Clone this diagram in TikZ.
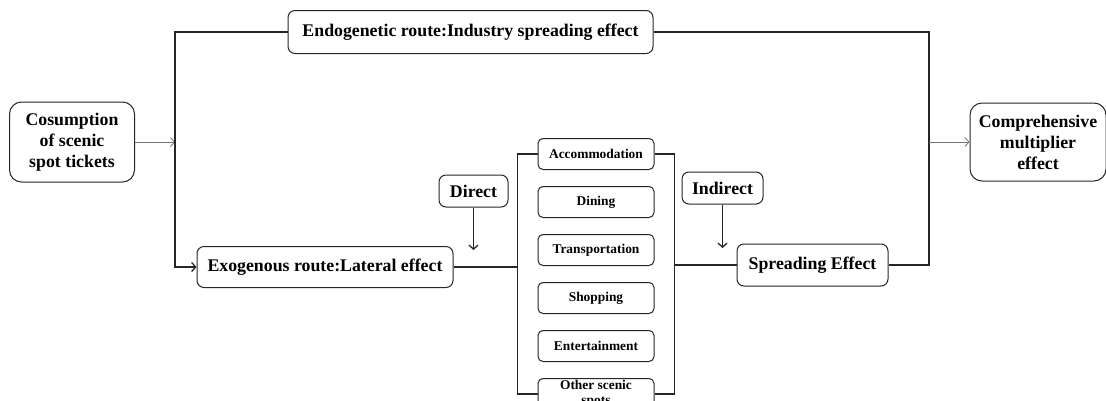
\documentclass[tikz,border=0pt]{standalone}
\usepackage{fontspec}
\setmainfont{Liberation Serif}
\usetikzlibrary{arrows.meta,positioning}

\tikzset{
  box/.style={draw=black!85, line width=1pt, rounded corners=7pt, align=center, inner sep=2pt,
    font=\bfseries\fontsize{17.8}{21}\selectfont},
  catbox/.style={box, rounded corners=5pt, minimum width=116pt, minimum height=31pt, inner sep=1pt,
    font=\bfseries\fontsize{13.4}{15}\selectfont},
  link/.style={draw=black!85, line width=1.3pt},
  thinlink/.style={draw=black!55, line width=0.8pt}
}

\begin{document}
\begin{tikzpicture}[x=1pt, y=-1pt, node distance=16pt and 20pt, >={Straight Barb[length=4pt,width=9pt]}]
  \useasboundingbox (0,0) rectangle (1106,400);

  % Start and end
  \node (tickets) [box, minimum width=125pt, minimum height=80pt, rounded corners=12pt] at (72,142) {Cosumption\\of scenic\\spot tickets};
  \node (multiplier) [box, minimum width=136pt, minimum height=78pt, rounded corners=12pt] at (1038,142) {Comprehensive\\multiplier\\effect};

  % Two routes
  \node (endo) [box, minimum width=365pt, minimum height=43pt] at (470.5,32) {Endogenetic route:Industry spreading effect};
  \node (exo) [box, minimum width=256pt, minimum height=41pt] at (325,267) {Exogenous route:Lateral effect};
  \node (spread) [box, minimum width=151pt, minimum height=42pt] at (812.5,265) {Spreading Effect};

  % Direct / indirect
  \node (direct) [box, minimum width=69pt, minimum height=32pt] at (473.5,191) {Direct};
  \node (indirect) [box, minimum width=81pt, minimum height=32pt] at (722.5,188) {Indirect};
  \coordinate (dtip) at (473.5,250);
  \coordinate (itip) at (722.5,248);

  % Consumption sectors
  \node (acc) [catbox] at (596,154) {Accommodation};
  \node (din) [catbox, below=of acc] {Dining};
  \node (tra) [catbox, below=of din] {Transportation};
  \node (sho) [catbox, below=of tra] {Shopping};
  \node (ent) [catbox, below=of sho] {Entertainment};
  \node (oth) [catbox, below=of ent] {Other scenic\\spots};

  % Junctions
  \coordinate (lj) at (175,267);
  \coordinate (rj) at (929,265);

  % Connectors
  \draw[thinlink, ->] (tickets.east) -- (tickets.east -| lj);
  \draw[link, ->] (endo.west) -| (lj) -- (exo.west);
  \draw[link] (endo.east) -| (rj) -- (spread.east);
  \draw[thinlink, ->] (multiplier.west -| rj) -- (multiplier.west);

  \draw[link] (acc.west) -- ++(-20,0) coordinate (bl) |- (oth.west);
  \draw[link] (acc.east) -- ++(20,0) coordinate (br) |- (oth.east);
  \draw[link] (exo.east) -- (exo.east -| bl);
  \draw[link] (br |- spread.west) -- (spread.west);

  \draw[link, ->] (direct) -- (dtip);
  \draw[link, ->] (indirect) -- (itip);

\end{tikzpicture}
\end{document}
